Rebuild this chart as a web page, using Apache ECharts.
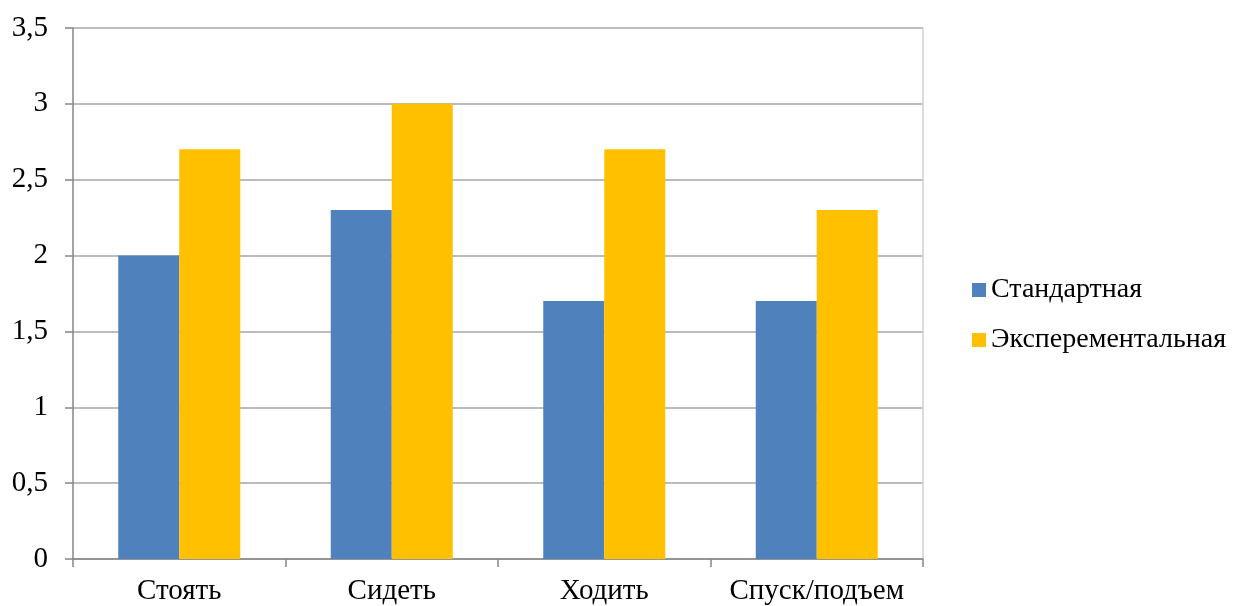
<!DOCTYPE html>
<html>
<head>
<meta charset="utf-8">
<script src="https://cdn.jsdelivr.net/npm/echarts@6/dist/echarts.min.js"></script>
<style>
  html, body { margin: 0; padding: 0; background: #fff; }
  #chart { width: 1236px; height: 606px; }
</style>
</head>
<body>
<div id="chart"></div>
<script>
// категории и значения
const categories = ['Стоять', 'Сидеть', 'Ходить', 'Спуск/подъем']
const standard = [2, 2.3, 1.7, 1.7]
const experimental = [2.7, 3, 2.7, 2.3]
const yTicks = ['0', '0,5', '1', '1,5', '2', '2,5', '3', '3,5']

const font = '"Liberation Serif", "Times New Roman", serif'
const colors = { blue: '#4F81BD', yellow: '#FFC000', grid: '#A6A6A6', axis: '#868686' }

const chart = echarts.init(document.getElementById('chart'))

chart.setOption({
  animation: false,
  textStyle: { fontFamily: font },
  legend: {
    orient: 'vertical',
    left: 967,
    top: 271,
    itemWidth: 14,
    itemHeight: 14,
    itemGap: 22,
    icon: 'rect',
    itemStyle: { borderWidth: 0 },
    textStyle: { fontFamily: font, fontSize: 28, color: '#000' },
    data: ['Стандартная', 'Эксперементальная']
  },
  grid: { left: 73, right: 313, top: 28, bottom: 47 },
  xAxis: {
    type: 'category',
    data: categories,
    axisLine: { lineStyle: { color: colors.axis, width: 1.5 } },
    axisTick: { show: true, interval: 0, length: 8, lineStyle: { color: colors.axis, width: 1.5 } },
    axisLabel: { interval: 0, fontFamily: font, fontSize: 29, color: '#000', margin: 18 }
  },
  yAxis: [
    {
      type: 'value',
      min: 0,
      max: 3.5,
      interval: 0.5,
      axisLine: { show: true, lineStyle: { color: colors.axis, width: 1.5 } },
      axisTick: { show: true, length: 8, lineStyle: { color: colors.axis, width: 1.5 } },
      splitLine: { lineStyle: { color: colors.grid, width: 1.5 } },
      axisLabel: {
        fontFamily: font,
        fontSize: 29,
        color: '#000',
        margin: 25,
        formatter: (v) => yTicks[Math.round(v * 2)]
      }
    },
    {
      type: 'value',
      position: 'right',
      min: 0,
      max: 3.5,
      interval: 0.5,
      axisLine: { show: true, lineStyle: { color: '#D0D0D0', width: 1.5 } },
      axisTick: { show: false },
      axisLabel: { show: false },
      splitLine: { show: false }
    }
  ],
  series: [
    {
      name: 'Стандартная',
      type: 'bar',
      data: standard,
      barWidth: 61,
      barGap: '0%',
      itemStyle: { color: colors.blue }
    },
    {
      name: 'Эксперементальная',
      type: 'bar',
      data: experimental,
      barWidth: 61,
      itemStyle: { color: colors.yellow }
    }
  ]
})
</script>
</body>
</html>
